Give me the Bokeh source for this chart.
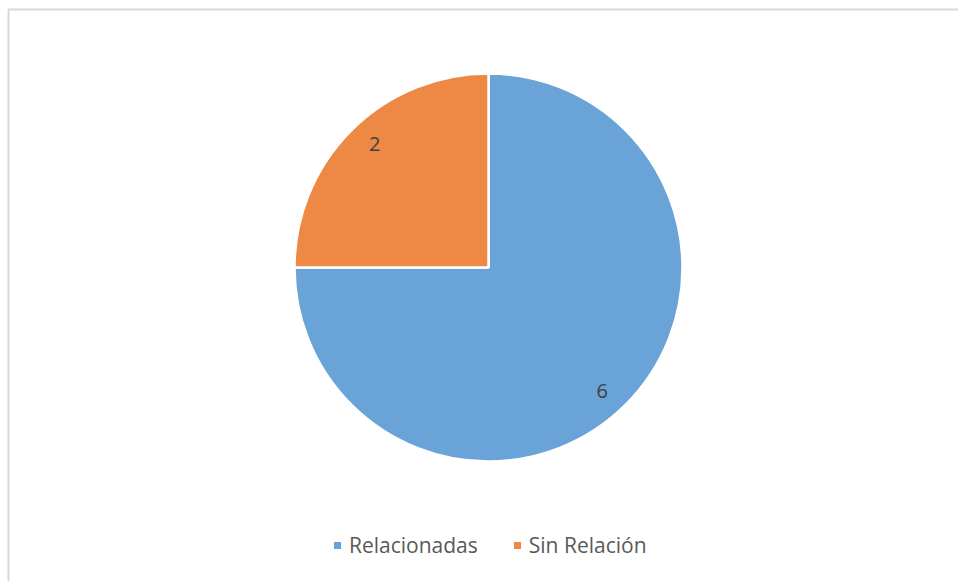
import math
from bokeh.plotting import figure
from bokeh.models import ColumnDataSource, Legend, LegendItem, Range1d
from bokeh.core.properties import value
from bokeh.embed import file_html
from bokeh.resources import INLINE

categories = ["Relacionadas", "Sin Relación"]
values = [6, 2]
colors = ["#69a3d8", "#ed8945"]

W, H = 958, 581
cx, cy, r = 488, 314, 194

total = sum(values)
starts, ends, lx, ly = [], [], [], []
a = math.pi / 2
for v in values:
    e = a - v / total * 2 * math.pi
    starts.append(a)
    ends.append(e)
    mid = (a + e) / 2 - 0.04
    lx.append(cx + 0.865 * r * math.cos(mid))
    ly.append(cy + 0.865 * r * math.sin(mid))
    a = e

src = ColumnDataSource(dict(cat=categories, val=values, color=colors,
                            start=starts, end=ends, lx=lx, ly=ly,
                            txt=[str(v) for v in values]))

p = figure(width=W, height=H, output_backend="svg", toolbar_location=None,
           x_range=Range1d(0, W), y_range=Range1d(0, H), min_border=0)
p.axis.visible = False
p.grid.visible = False
p.outline_line_color = None
p.background_fill_color = "white"

# chart-area border (top and left edges visible in the reference)
p.line(x=[8, 8, W + 10], y=[-10, H - 9, H - 9], line_color="#d9d9d9", line_width=2)

items = []
for i in range(len(values)):
    rr = p.wedge(x=cx, y=cy, radius=r, start_angle=starts[i], end_angle=ends[i],
                 direction="clock", fill_color=colors[i], line_color="white",
                 line_width=2.5)
    items.append(LegendItem(label=categories[i], renderers=[rr]))

p.text(x="lx", y="ly", text="txt", source=src, text_align="center",
       text_baseline="middle", text_font=value("Open Sans"),
       text_font_size="20px", text_color="#404040")

leg = Legend(items=items, orientation="horizontal", location=(331, 22),
             glyph_width=12, glyph_height=12, label_standoff=6, spacing=33,
             padding=0, margin=0, border_line_alpha=0, background_fill_alpha=0,
             label_text_font="Open Sans", label_text_font_size="21px",
             label_text_color="#595959")
p.add_layout(leg)

open("out.html", "w").write(file_html(p, INLINE))
